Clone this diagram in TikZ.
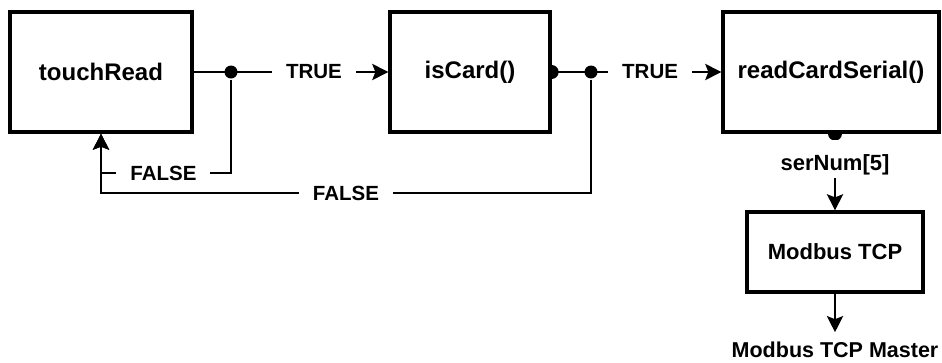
\documentclass[tikz,border=0pt]{standalone}
\usepackage{fontspec}
\setmainfont{Liberation Sans}
\usetikzlibrary{positioning, arrows.meta}

\begin{document}
\begin{tikzpicture}[
    x=1pt, y=-1pt,
    line width=2.8pt,
    font=\bfseries,
    flow/.style={-{Stealth[length=16pt, width=16pt, inset=3pt]}},
    block/.style={draw, line width=3.3pt, fill=white, minimum height=120pt,
        font=\fontsize{24}{28}\selectfont\bfseries},
    tag/.style={fill=white, inner xsep=14pt, inner ysep=2pt,
        font=\fontsize{20.5}{24}\selectfont\bfseries},
    junction/.style={circle, fill, inner sep=0pt, minimum size=13pt}
]
    \useasboundingbox (0,0) rectangle (942,362);

    % Function Blocks
    \node[block, minimum width=182pt] (touch) at (101,72) {touchRead};
    \node[block, minimum width=160pt] (iscard) at (470,72) {isCard()};
    \node[block, minimum width=216pt] (readcs) at (831,72) {readCardSerial()};
    \node[block, minimum width=176pt, minimum height=80pt,
        font=\fontsize{22}{26}\selectfont\bfseries] (modbus) at (835,252) {Modbus TCP};
    \node[inner ysep=8.5pt, font=\fontsize{21.5}{25}\selectfont\bfseries]
        (master) at (835,350) {Modbus TCP Master};

    % Branch Points
    \node[junction] (j1) at (231,72) {};
    \node[junction] (j2) at (591,72) {};

    % TRUE Paths
    \draw[flow] (touch) -- node[tag, pos=0.618] {TRUE} (iscard);
    \draw[flow] (iscard) -- node[tag, pos=0.58] {TRUE} (readcs);
    \fill (iscard.east) ++(0,-7) arc (-90:90:7) -- cycle;

    % FALSE Paths (back to touchRead)
    \draw[flow] (j2) -- ++(0,121) -| node[tag, pos=0.25] {FALSE} (touch.south);
    \draw[flow] (j1) -- ++(0,101) -| node[tag, pos=0.26] {FALSE} (touch.south);

    % Serial Number Output
    \fill (readcs.south -| modbus.north) ++(-7,0) arc (180:0:7) -- cycle;
    \draw[flow] (readcs.south -| modbus.north) -- node[tag, pos=0.33, inner ysep=0pt,
        text height=31pt, text depth=7pt, font=\fontsize{22}{26}\selectfont\bfseries]
        {serNum[5]} (modbus.north);
    \draw[flow] (modbus) -- (master);

\end{tikzpicture}
\end{document}
